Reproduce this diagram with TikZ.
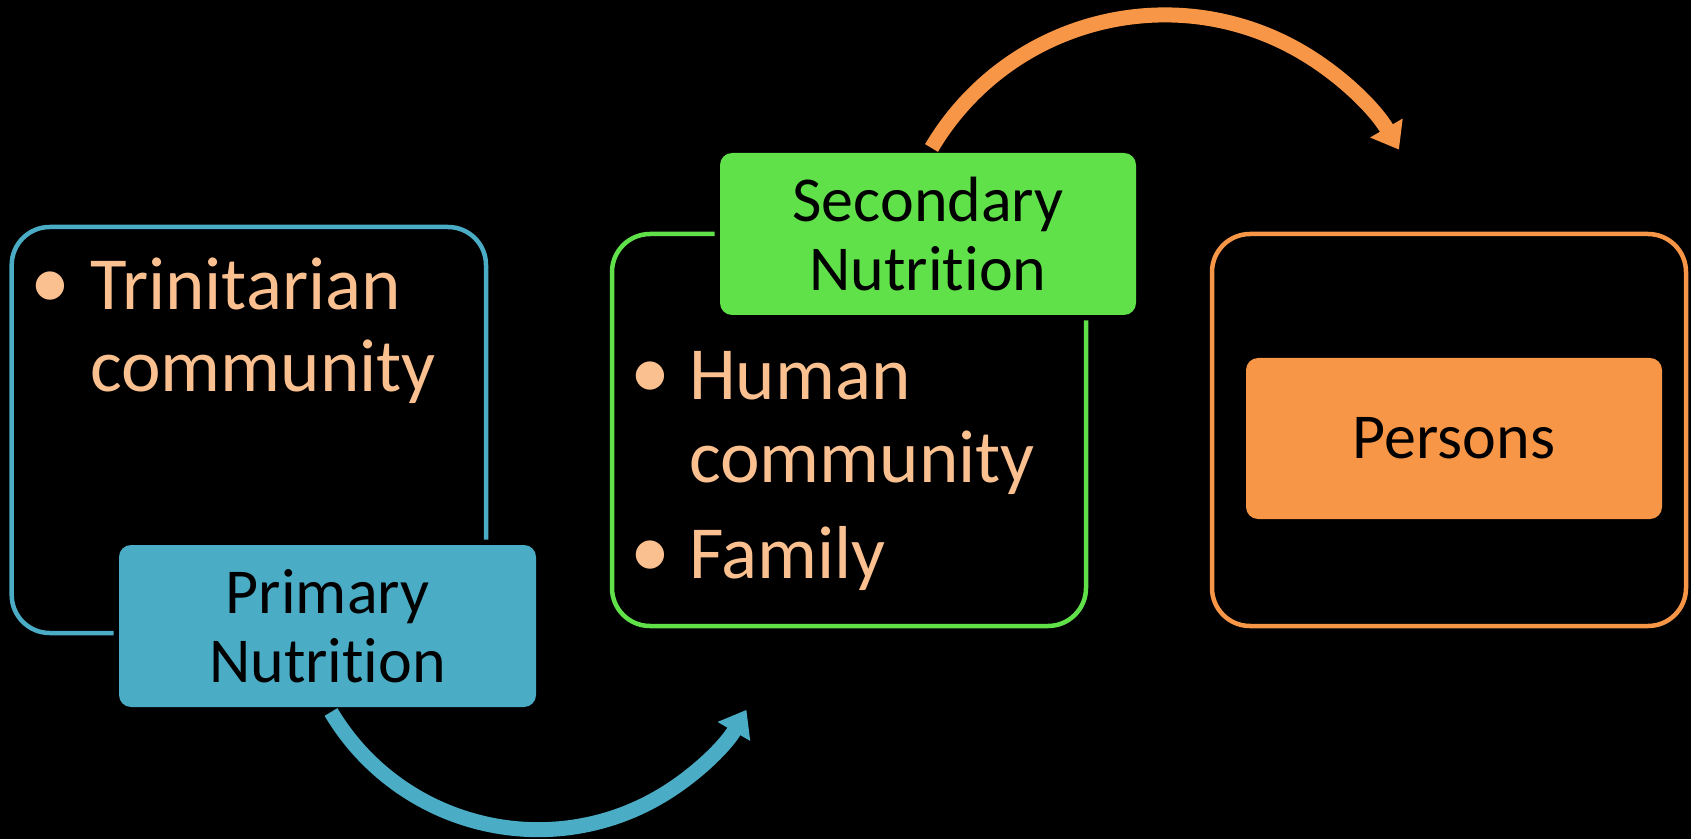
\documentclass[tikz,border=0pt]{standalone}
\usepackage{fontspec}
\setmainfont{Carlito}[Ligatures=CommonOff]
\usetikzlibrary{arrows.meta}
\definecolor{cblue}{RGB}{75,172,198}
\definecolor{cgreen}{RGB}{96,225,74}
\definecolor{corange}{RGB}{247,150,70}
\definecolor{cpeach}{RGB}{250,192,144}
\tikzset{
  outlinebox/.style={draw=#1, line width=4.5pt, rounded corners=38pt},
  labelbox/.style={rectangle, rounded corners=12pt, fill=#1, inner sep=0pt,
    align=center, text=black, font=\fontsize{64}{69}\selectfont,
    preaction={draw=black, line width=11pt}},
  itemtext/.style={anchor=base west, inner sep=0pt, text=cpeach, font=\fontsize{75}{82}\selectfont},
  bullettext/.style={anchor=base, inner sep=0pt, text=cpeach, font=\fontsize{80}{82}\selectfont},
  flowarrow/.style={draw=#1, line width=15pt, -{Triangle[length=25pt,width=36pt]}}
}
\begin{document}
\begin{tikzpicture}[x=1pt,y=1pt]
\useasboundingbox (0,0) rectangle (1691,839);
\fill[black] (0,0) rectangle (1691,839);
% outline boxes
\draw[outlinebox=cblue] (11.7,206) rectangle (486,612);
\draw[outlinebox=cgreen] (612,213) rectangle (1086,605);
\draw[outlinebox=corange] (1212,213) rectangle (1686,605);
% labelled boxes
\node[labelbox=cblue, minimum width=417pt, minimum height=162pt] (prim) at (327.5,213) {Primary\\Nutrition};
\node[labelbox=cgreen, minimum width=416pt, minimum height=162pt] (sec) at (928,605) {Secondary\\Nutrition};
\node[labelbox=corange, minimum width=416pt, minimum height=161pt, preaction={draw=none}] (pers) at (1454,400.5) {Persons};
% items
\node[bullettext] (b1) at (50,530) {•};
\node[itemtext] (t1) at (90,529) {Trinitarian};
\node[itemtext] (t2) at (90,447) {community};
\node[bullettext] (b2) at (650,440) {•};
\node[itemtext] (t3) at (689,439) {Human};
\node[itemtext] (t4) at (689,357) {community};
\node[bullettext] (b3) at (650,262) {•};
\node[itemtext] (t5) at (689,261) {Family};
% arrows
\coordinate (ba) at (331,127);
\coordinate (oa) at (931.5,691);
\draw[flowarrow=cblue] (ba) arc[start angle=210.8, end angle=329.8, radius=241.1];
\draw[flowarrow=corange] (oa) arc[start angle=149.4, end angle=30.2, radius=271];
\end{tikzpicture}
\end{document}
